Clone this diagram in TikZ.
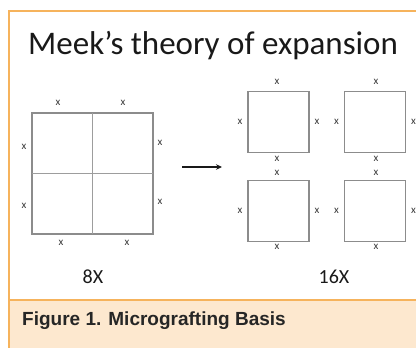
\documentclass[tikz,border=0pt]{standalone}
\usepackage{fontspec}
\setmainfont{Carlito}
\newfontfamily\capfont{Liberation Sans}
\usetikzlibrary{positioning,arrows.meta}
\definecolor{mframe}{HTML}{F6B35C}
\definecolor{mband}{HTML}{FDE8CF}
\definecolor{mline}{HTML}{8C8C8C}
\definecolor{mmark}{HTML}{3A3A3A}
\begin{document}
\begin{tikzpicture}[x=1pt,y=-1pt,
  sq/.style={draw=mline, line width=1.2pt, minimum size=#1, inner sep=0pt, outer sep=0pt},
  xmark/.style={font=\fontsize{11}{11}\selectfont, text=mmark, inner sep=0pt},
  lbl/.style={font=\fontsize{20}{24}\selectfont, text=black!90, anchor=base}]
 \useasboundingbox (0,0) rectangle (416,348);
 \fill[mband] (9,300) rectangle (416,348);
 \draw[mframe, line width=1.4pt] (416,11) -- (9,11) -- (9,348);
 \draw[mframe, line width=1.4pt] (9,300) -- (416,300);
 \node[anchor=base west, inner sep=0pt, font=\fontsize{33}{40}\selectfont, text=black!90] (title) at (28,55) {Meek’s theory of expansion};
 \node[sq=121pt] (big) at (92.5,173.5) {};
 \draw[mline!85, line width=1pt] (big.north) -- (big.south);
 \draw[mline!85, line width=1pt] (big.west) -- (big.east);
 \foreach \n/\x/\y in {t1/58/103, t2/123/103, l1/24/147, l2/24/206, r1/160/143, r2/160/202, b1/61/243, b2/127/243}
  \node[xmark] (big\n) at (\x,\y) {x};
 \node[lbl] (eight) at (93,283) {8X};
 \coordinate (arrS) at (182,167);
 \coordinate (arrE) at (222,167);
 \draw[-{Stealth[length=6pt,width=5.5pt]}, line width=1.6pt, black!90] (arrS) -- (arrE);
 \foreach \n/\x/\y in {tl/278.5/122, tr/375/122, bl/278.5/211, br/375/211}{
  \node[sq=61pt] (\n) at (\x,\y) {};
  \node[xmark] (\n W) at (\x-38.5,\y) {x};
  \node[xmark] (\n E) at (\x+38.5,\y) {x};
 }
 \node[xmark] (tlN) at (277,82) {x};
 \node[xmark] (trN) at (376,82) {x};
 \node[xmark] (tlS) at (277,159) {x};
 \node[xmark] (trS) at (376,159) {x};
 \node[xmark] (blN) at (277,173) {x};
 \node[xmark] (brN) at (376,173) {x};
 \node[xmark] (blS) at (277,247) {x};
 \node[xmark] (brS) at (376,247) {x};
 \node[lbl] (sixteen) at (334,283) {16X};
 \node[anchor=base west, inner sep=0pt, font=\capfont\bfseries\fontsize{19}{22}\selectfont, text=black!85] (cap) at (22,325) {Figure 1. Micrografting Basis};
\end{tikzpicture}
\end{document}
